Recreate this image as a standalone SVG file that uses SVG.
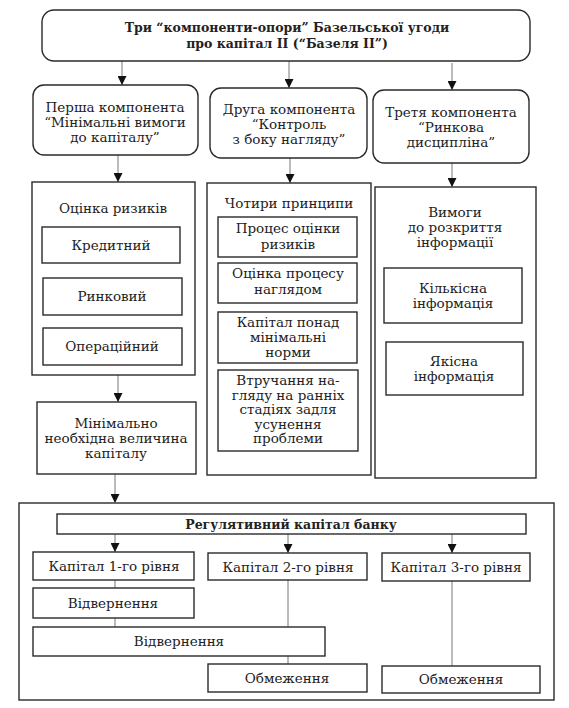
<svg xmlns="http://www.w3.org/2000/svg" width="569" height="708" viewBox="0 0 569 708">
<style>
.b{fill:#fff;stroke:#2a2a2a;stroke-width:1.4}
.f{fill:none;stroke:#2a2a2a;stroke-width:1.4}
.t{font-family:"DejaVu Serif","Liberation Serif",serif;font-size:13.5px;fill:#222;text-anchor:middle}
.bd{font-weight:bold;font-size:12.5px}
.c{stroke:#777;stroke-width:1;fill:none}
.a{marker-end:url(#ah)}
</style>
<defs>
<marker id="ah" markerUnits="userSpaceOnUse" markerWidth="9" markerHeight="9" refX="9" refY="4.5" orient="auto" viewBox="0 0 9 9">
<path d="M0,0 L9,4.5 L0,9 Z" fill="#111"/>
</marker>
</defs>
<rect width="569" height="708" fill="#fff"/>
<g id="regcont">
<rect class="f" x="19" y="503" width="535" height="197"/>
</g>
<g id="connectors">
<path class="c a" d="M122,58 V85"/>
<path class="c a" d="M289,60 V88"/>
<path class="c a" d="M452,63 V90"/>
<path class="c a" d="M118,155 V182"/>
<path class="c a" d="M290,158 V183"/>
<path class="c a" d="M452,163 V187"/>
<path class="c a" d="M118,375 V402"/>
<path class="c a" d="M115,474 V503"/>
<path class="c a" d="M115,534 V552"/>
<path class="c a" d="M288,534 V553"/>
<path class="c a" d="M452,534 V553"/>
<path class="c" d="M115,580 V588 M115,618 V627 M288,580 V627 M288,656 V664 M452,581 V666"/>
</g>
<g id="top">
<rect class="b" x="42" y="10" width="488" height="51" rx="12"/>
<text class="t bd" x="287" y="32">Три “компоненти-опори” Базельської угоди</text>
<text class="t bd" x="287" y="48">про капітал ІІ (“Базеля ІІ”)</text>
</g>
<g id="comp1">
<rect class="b" x="33" y="85" width="165" height="70" rx="11"/>
<text class="t" x="115" y="112">Перша компонента</text>
<text class="t" x="115" y="127">“Мінімальні вимоги</text>
<text class="t" x="115" y="142">до капіталу”</text>
</g>
<g id="comp2">
<rect class="b" x="210" y="88" width="157" height="70" rx="11"/>
<text class="t" x="289" y="114">Друга компонента</text>
<text class="t" x="289" y="129">“Контроль</text>
<text class="t" x="289" y="144">з боку нагляду”</text>
</g>
<g id="comp3">
<rect class="b" x="373" y="90" width="156" height="73" rx="11"/>
<text class="t" x="451" y="117">Третя компонента</text>
<text class="t" x="451" y="132">“Ринкова</text>
<text class="t" x="451" y="147">дисципліна”</text>
</g>
<g id="risk">
<rect class="b" x="32" y="182" width="163" height="193"/>
<text class="t" x="113" y="213">Оцінка ризиків</text>
</g>
<g id="credit">
<rect class="b" x="42" y="227" width="138" height="36"/>
<text class="t" x="111" y="250">Кредитний</text>
</g>
<g id="market">
<rect class="b" x="43" y="278" width="139" height="37"/>
<text class="t" x="112" y="301">Ринковий</text>
</g>
<g id="oper">
<rect class="b" x="43" y="328" width="139" height="37"/>
<text class="t" x="112" y="351">Операційний</text>
</g>
<g id="mincap">
<rect class="b" x="37" y="402" width="159" height="72"/>
<text class="t" x="116" y="428">Мінімально</text>
<text class="t" x="116" y="443">необхідна величина</text>
<text class="t" x="116" y="458">капіталу</text>
</g>
<g id="four">
<rect class="b" x="207" y="183" width="164" height="292"/>
<text class="t" x="289" y="208">Чотири принципи</text>
</g>
<g id="p1">
<rect class="b" x="218" y="217" width="139" height="40"/>
<text class="t" x="288" y="233">Процес оцінки</text>
<text class="t" x="288" y="249">ризиків</text>
</g>
<g id="p2">
<rect class="b" x="218" y="263" width="139" height="40"/>
<text class="t" x="288" y="278">Оцінка процесу</text>
<text class="t" x="288" y="294">наглядом</text>
</g>
<g id="p3">
<rect class="b" x="218" y="312" width="139" height="51"/>
<text class="t" x="288" y="327">Капітал понад</text>
<text class="t" x="288" y="342">мінімальні</text>
<text class="t" x="288" y="357">норми</text>
</g>
<g id="p4">
<rect class="b" x="218" y="370" width="140" height="81"/>
<text class="t" x="288" y="385">Втручання на-</text>
<text class="t" x="288" y="399.5">гляду на ранніх</text>
<text class="t" x="288" y="414">стадіях задля</text>
<text class="t" x="288" y="428.5">усунення</text>
<text class="t" x="288" y="443">проблеми</text>
</g>
<g id="disc">
<rect class="b" x="375" y="187" width="161" height="291"/>
<text class="t" x="455" y="217">Вимоги</text>
<text class="t" x="455" y="232">до розкриття</text>
<text class="t" x="455" y="247">інформації</text>
</g>
<g id="quant">
<rect class="b" x="384" y="268" width="138" height="55"/>
<text class="t" x="453" y="293">Кількісна</text>
<text class="t" x="453" y="308">інформація</text>
</g>
<g id="qual">
<rect class="b" x="386" y="342" width="137" height="53"/>
<text class="t" x="454" y="366">Якісна</text>
<text class="t" x="454" y="381">інформація</text>
</g>
<g id="reg">
<rect class="b" x="57" y="514" width="469" height="20"/>
<text class="t bd" x="291" y="529">Регулятивний капітал банку</text>
</g>
<g id="k1">
<rect class="b" x="33" y="552" width="161" height="28"/>
<text class="t" x="114" y="571">Капітал 1-го рівня</text>
</g>
<g id="k2">
<rect class="b" x="208" y="553" width="159" height="27"/>
<text class="t" x="288" y="572">Капітал 2-го рівня</text>
</g>
<g id="k3">
<rect class="b" x="382" y="553" width="148" height="28"/>
<text class="t" x="456" y="572">Капітал 3-го рівня</text>
</g>
<g id="v1">
<rect class="b" x="33" y="588" width="161" height="30"/>
<text class="t" x="113" y="608">Відвернення</text>
</g>
<g id="v2">
<rect class="b" x="33" y="627" width="292" height="29"/>
<text class="t" x="179" y="646">Відвернення</text>
</g>
<g id="o2">
<rect class="b" x="208" y="664" width="159" height="28"/>
<text class="t" x="287" y="683">Обмеження</text>
</g>
<g id="o3">
<rect class="b" x="382" y="666" width="158" height="27"/>
<text class="t" x="461" y="684">Обмеження</text>
</g>
</svg>
